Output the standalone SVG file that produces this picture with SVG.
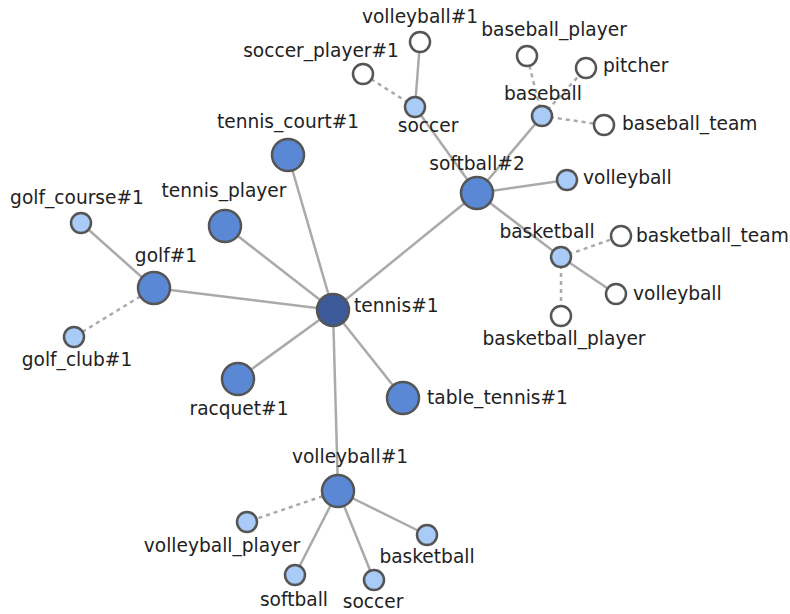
<svg xmlns="http://www.w3.org/2000/svg" width="790" height="614" viewBox="0 0 790 614">
<style>
.e{stroke:#aaaaaa;stroke-width:2.5;fill:none}
.d{stroke-dasharray:4,4}
circle{stroke:#555555;stroke-width:2.5}
.c0{fill:#3d5a9a}
.c1{fill:#5a88d5}
.c2{fill:#a8cbf7}
.c3{fill:#ffffff}
text{font-family:"DejaVu Sans",sans-serif;font-size:18.6px;fill:#222222}
.m{text-anchor:middle}
</style>
<rect width="790" height="614" fill="#ffffff"/>
<g id="edges">
<line class="e" x1="333" y1="310" x2="288" y2="155"/>
<line class="e" x1="333" y1="310" x2="225" y2="226"/>
<line class="e" x1="333" y1="310" x2="154" y2="288"/>
<line class="e" x1="333" y1="310" x2="238" y2="379"/>
<line class="e" x1="333" y1="310" x2="403" y2="398"/>
<line class="e" x1="333" y1="310" x2="477" y2="193"/>
<line class="e" x1="333" y1="310" x2="338" y2="491"/>
<line class="e" x1="154" y1="288" x2="81" y2="223"/>
<line class="e d" x1="154" y1="288" x2="74" y2="337"/>
<line class="e" x1="477" y1="193" x2="415" y2="107"/>
<line class="e" x1="477" y1="193" x2="542" y2="116"/>
<line class="e" x1="477" y1="193" x2="567" y2="180"/>
<line class="e" x1="477" y1="193" x2="561" y2="257"/>
<line class="e" x1="415" y1="107" x2="420" y2="42"/>
<line class="e d" x1="415" y1="107" x2="363" y2="74"/>
<line class="e d" x1="542" y1="116" x2="527" y2="56"/>
<line class="e d" x1="542" y1="116" x2="586" y2="68"/>
<line class="e d" x1="542" y1="116" x2="604" y2="125"/>
<line class="e d" x1="561" y1="257" x2="621" y2="236"/>
<line class="e" x1="561" y1="257" x2="616" y2="294"/>
<line class="e d" x1="561" y1="257" x2="561" y2="316"/>
<line class="e d" x1="338" y1="491" x2="247" y2="522"/>
<line class="e" x1="338" y1="491" x2="295" y2="575"/>
<line class="e" x1="338" y1="491" x2="374" y2="580"/>
<line class="e" x1="338" y1="491" x2="427" y2="535"/>
</g>
<g id="tennis1"><circle class="c0" cx="333" cy="310" r="16"/><text x="354" y="312">tennis#1</text></g>
<g id="tennis_court1"><circle class="c1" cx="288" cy="155" r="16"/><text class="m" x="288" y="128">tennis_court#1</text></g>
<g id="tennis_player"><circle class="c1" cx="225" cy="226" r="16"/><text class="m" x="224" y="197">tennis_player</text></g>
<g id="golf1"><circle class="c1" cx="154" cy="288" r="16"/><text class="m" x="166" y="262">golf#1</text></g>
<g id="golf_course1"><circle class="c2" cx="81" cy="223" r="10"/><text class="m" x="77" y="204">golf_course#1</text></g>
<g id="golf_club1"><circle class="c2" cx="74" cy="337" r="10"/><text class="m" x="77" y="366">golf_club#1</text></g>
<g id="racquet1"><circle class="c1" cx="238" cy="379" r="16"/><text class="m" x="239" y="415">racquet#1</text></g>
<g id="table_tennis1"><circle class="c1" cx="403" cy="398" r="16"/><text x="427" y="404">table_tennis#1</text></g>
<g id="softball2"><circle class="c1" cx="477" cy="193" r="16"/><text class="m" x="477" y="170">softball#2</text></g>
<g id="soccer_a"><circle class="c2" cx="415" cy="107" r="10"/><text class="m" x="428" y="132">soccer</text></g>
<g id="volleyball1_top"><circle class="c3" cx="420" cy="42" r="10"/><text class="m" x="420" y="23">volleyball#1</text></g>
<g id="soccer_player1"><circle class="c3" cx="363" cy="74" r="10"/><text class="m" x="321" y="57">soccer_player#1</text></g>
<g id="baseball"><circle class="c2" cx="542" cy="116" r="10"/><text class="m" x="543" y="100">baseball</text></g>
<g id="baseball_player"><circle class="c3" cx="527" cy="56" r="10"/><text class="m" x="554" y="36">baseball_player</text></g>
<g id="pitcher"><circle class="c3" cx="586" cy="68" r="10"/><text x="603" y="72">pitcher</text></g>
<g id="baseball_team"><circle class="c3" cx="604" cy="125" r="10"/><text x="622" y="130">baseball_team</text></g>
<g id="volleyball_a"><circle class="c2" cx="567" cy="180" r="10"/><text x="583" y="184">volleyball</text></g>
<g id="basketball_a"><circle class="c2" cx="561" cy="257" r="10"/><text class="m" x="547" y="238">basketball</text></g>
<g id="basketball_team"><circle class="c3" cx="621" cy="236" r="10"/><text x="636" y="242">basketball_team</text></g>
<g id="volleyball_b"><circle class="c3" cx="616" cy="294" r="10"/><text x="633" y="300">volleyball</text></g>
<g id="basketball_player"><circle class="c3" cx="561" cy="316" r="10"/><text class="m" x="564" y="345">basketball_player</text></g>
<g id="volleyball1"><circle class="c1" cx="338" cy="491" r="16"/><text class="m" x="350" y="463">volleyball#1</text></g>
<g id="volleyball_player"><circle class="c2" cx="247" cy="522" r="10"/><text class="m" x="222" y="552">volleyball_player</text></g>
<g id="softball"><circle class="c2" cx="295" cy="575" r="10"/><text class="m" x="294" y="606">softball</text></g>
<g id="soccer_b"><circle class="c2" cx="374" cy="580" r="10"/><text class="m" x="373" y="608">soccer</text></g>
<g id="basketball_b"><circle class="c2" cx="427" cy="535" r="10"/><text class="m" x="427" y="563">basketball</text></g>
</svg>
